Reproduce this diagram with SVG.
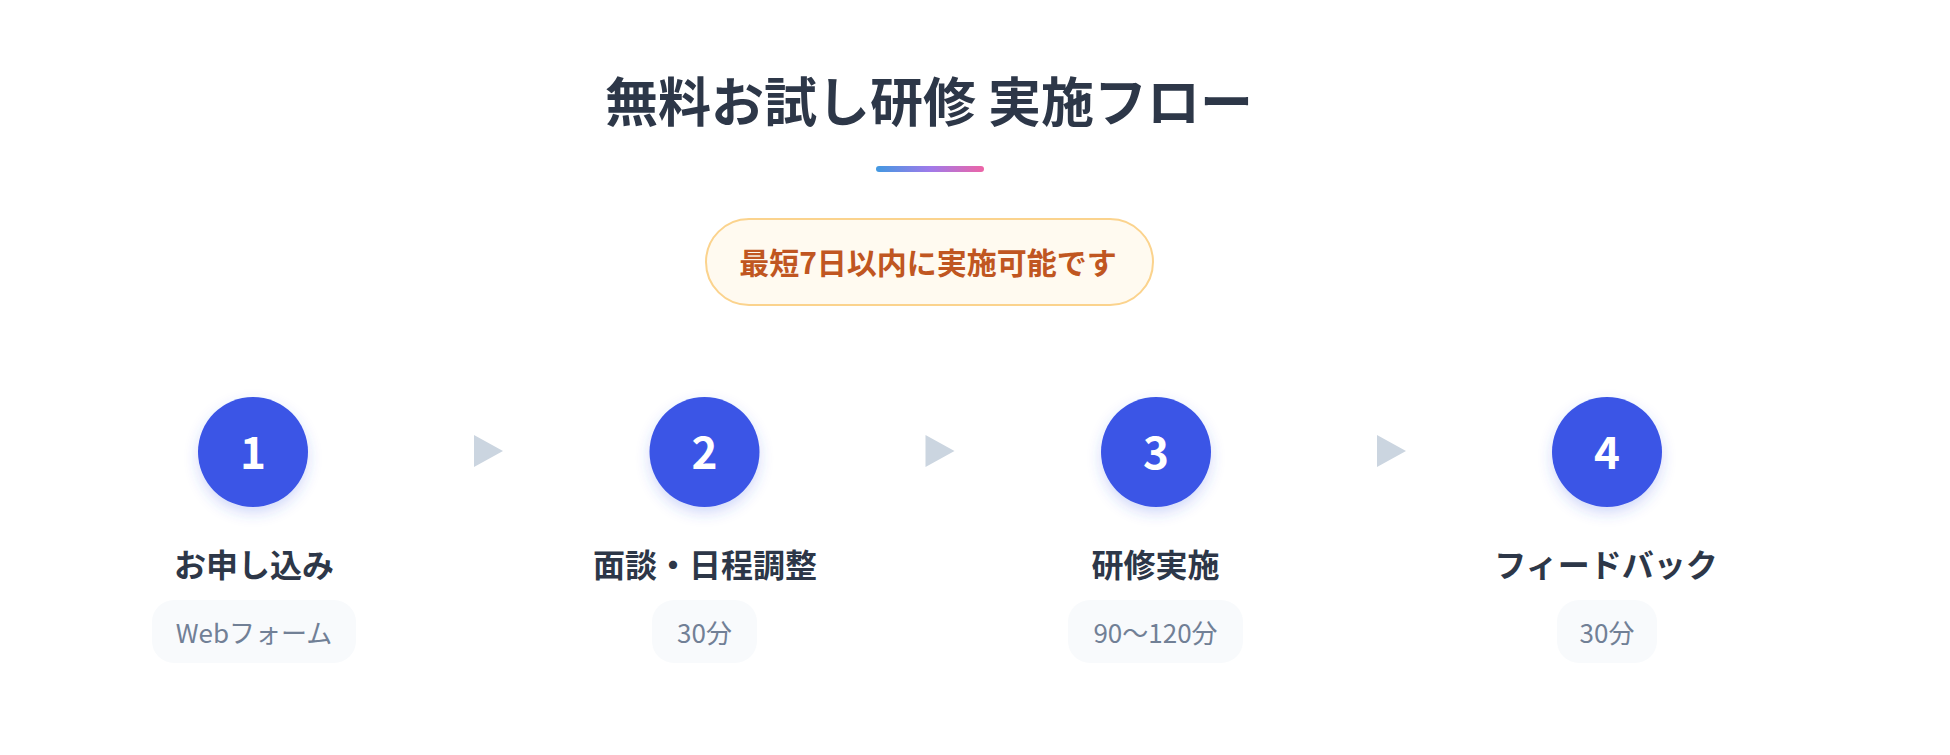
<svg xmlns="http://www.w3.org/2000/svg" width="1950" height="755" viewBox="0 0 1950 755">
  <defs>
    <linearGradient id="barGrad" x1="0" y1="0" x2="1" y2="0">
      <stop offset="0" stop-color="#4299e1"/>
      <stop offset="0.5" stop-color="#9f7aea"/>
      <stop offset="1" stop-color="#ed64a6"/>
    </linearGradient>
    <filter id="circleShadow" x="-50%" y="-50%" width="200%" height="200%">
      <feDropShadow dx="0" dy="6" stdDeviation="7" flood-color="#3b55e6" flood-opacity="0.22"/>
    </filter>
    <style>
      .t { font-family: "Noto Sans CJK JP", "Noto Sans", sans-serif; dominant-baseline: central; text-anchor: middle; }
      .title { font-size: 53px; font-weight: 700; fill: #2d3748; }
      .badge-bg { fill: #fffaf0; stroke: #fbd38d; stroke-width: 2; }
      .badge-tx { font-size: 30px; font-weight: 700; fill: #c05621; }
      .circle { fill: #3b55e6; filter: url(#circleShadow); }
      .num { font-size: 44px; font-weight: 700; fill: #ffffff; }
      .label { font-size: 32px; font-weight: 700; fill: #2d3748; }
      .pill { fill: #f8fafc; }
      .sub { font-size: 26px; font-weight: 400; fill: #718096; }
      .arrow { fill: #cbd5e0; }
    </style>
  </defs>
  <rect width="1950" height="755" fill="#ffffff"/>

  <g id="header">
    <text class="t title" x="929" y="99">無料お試し研修 実施フロー</text>
    <rect x="876" y="166" width="108" height="6" rx="3" fill="url(#barGrad)"/>
    <rect class="badge-bg" x="706" y="219" width="447" height="86" rx="43"/>
    <text class="t badge-tx" x="928" y="261">最短7日以内に実施可能です</text>
  </g>

  <g id="connectors">
    <polygon class="arrow" points="474,435 474,467 503,451"/>
    <polygon class="arrow" points="925.5,435 925.5,467 954.5,451"/>
    <polygon class="arrow" points="1377,435 1377,467 1406,451"/>
  </g>

  <g id="step1">
    <circle class="circle" cx="253" cy="452" r="55"/>
    <text class="t num" x="253" y="450">1</text>
    <text class="t label" x="254" y="563">お申し込み</text>
    <rect class="pill" x="152" y="600" width="204" height="63" rx="22"/>
    <text class="t sub" x="254" y="631">Webフォーム</text>
  </g>

  <g id="step2">
    <circle class="circle" cx="704.5" cy="452" r="55"/>
    <text class="t num" x="704.5" y="450">2</text>
    <text class="t label" x="705" y="563">面談・日程調整</text>
    <rect class="pill" x="652" y="600" width="105" height="63" rx="22"/>
    <text class="t sub" x="704.5" y="631">30分</text>
  </g>

  <g id="step3">
    <circle class="circle" cx="1156" cy="452" r="55"/>
    <text class="t num" x="1156" y="450">3</text>
    <text class="t label" x="1155.5" y="563">研修実施</text>
    <rect class="pill" x="1068" y="600" width="175" height="63" rx="22"/>
    <text class="t sub" x="1155.5" y="631">90〜120分</text>
  </g>

  <g id="step4">
    <circle class="circle" cx="1607" cy="452" r="55"/>
    <text class="t num" x="1607" y="450">4</text>
    <text class="t label" x="1606" y="563">フィードバック</text>
    <rect class="pill" x="1557" y="600" width="100" height="63" rx="22"/>
    <text class="t sub" x="1607" y="631">30分</text>
  </g>
</svg>
